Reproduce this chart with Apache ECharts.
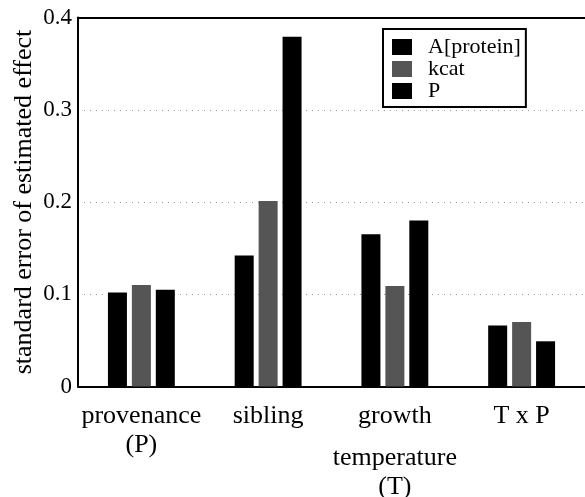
<!DOCTYPE html>
<html>
<head>
<meta charset="utf-8">
<script src="https://cdn.jsdelivr.net/npm/echarts@6/dist/echarts.min.js"></script>
<style>
html,body{margin:0;padding:0;background:#fff;}
#c{width:585px;height:497px;}
</style>
</head>
<body>
<div id="c"></div>
<script>
var categories = ['provenance', 'sibling', 'growth', 'TxP'];
var categoryLabels = ['{a|provenance}\n{a|(P)}', '{a|sibling}', '{a|growth}\n{s| }\n{a|temperature}\n{a|(T)}', '{a|T x P}'];
var seriesNames = ['A[protein]', 'kcat', 'P'];
var aProtein = [0.102, 0.142, 0.165, 0.066];
var kcat = [0.110, 0.201, 0.109, 0.070];
var pVals = [0.105, 0.379, 0.180, 0.049];
var yTicks = [0, 0.1, 0.2, 0.3, 0.4];

var serif = 'Liberation Serif';
var chart = echarts.init(document.getElementById('c'), null, {renderer: 'canvas'});
var colors = ['#000000', '#555555', '#000000'];
var dataArr = [aProtein, kcat, pVals];

chart.setOption({
  animation: false,
  backgroundColor: '#ffffff',
  textStyle: {fontFamily: serif},
  grid: {left: 78, right: 0, top: 17.5, bottom: 110.5, containLabel: false, outerBoundsMode: 'none'},
  legend: {
    data: seriesNames,
    orient: 'vertical',
    left: 383, top: 29,
    icon: 'rect',
    itemWidth: 20, itemHeight: 16, itemGap: 0,
    padding: [7, 5, 5, 9],
    borderColor: '#000', borderWidth: 2,
    formatter: function (n) { return '{l|' + n + '}'; },
    textStyle: {
      fontFamily: serif, fontSize: 22, color: '#000', padding: [0, 0, 0, 11], lineHeight: 22,
      rich: {l: {fontFamily: serif, fontSize: 22, color: '#000', lineHeight: 22}}
    }
  },
  xAxis: [{
    type: 'category',
    data: categories,
    axisLine: {show: true, lineStyle: {color: '#000', width: 2}},
    axisTick: {show: false},
    axisLabel: {
      interval: 0, margin: 15, color: '#000',
      formatter: function (v, i) { return categoryLabels[i]; },
      rich: {
        a: {fontFamily: serif, fontSize: 26, lineHeight: 29, color: '#000'},
        s: {fontFamily: serif, fontSize: 4, lineHeight: 13}
      }
    }
  }, {
    type: 'category',
    position: 'top',
    data: categories,
    axisLine: {show: true, lineStyle: {color: '#000', width: 2}},
    axisTick: {show: false},
    axisLabel: {show: false}
  }],
  yAxis: {
    type: 'value',
    min: 0, max: 0.4, interval: 0.1,
    name: 'standard error of estimated effect',
    nameLocation: 'middle',
    nameGap: 41,
    nameMoveOverlap: false,
    nameTextStyle: {fontFamily: serif, fontSize: 26, color: '#000'},
    axisLine: {show: true, lineStyle: {color: '#000', width: 2}},
    axisTick: {show: false},
    splitLine: {show: true, lineStyle: {type: [1, 5], color: '#999999', width: 1}},
    axisLabel: {
      fontFamily: serif, fontSize: 23, color: '#000', margin: 6,
      formatter: function (v) { var r = Math.round(v * 10) / 10; return yTicks.indexOf(r) >= 0 ? '{t|' + String(r) + '}' : ''; },
      rich: {t: {fontFamily: serif, fontSize: 23, color: '#000'}}
    }
  },
  series: seriesNames.map(function (n, i) {
    return {
      name: n, type: 'bar',
      data: dataArr[i],
      barWidth: 19, barGap: '26%',
      itemStyle: {color: colors[i]}
    };
  })
});
</script>
</body>
</html>
